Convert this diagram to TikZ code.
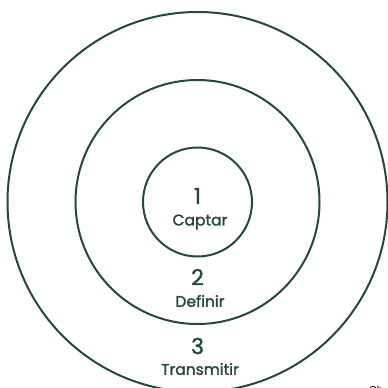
\documentclass[tikz,border=0pt]{standalone}
\usepackage{fontspec}
\setmainfont{Poppins}
\newfontfamily\labfont[FakeBold=1.6]{Poppins}
\newfontfamily\numfont[FakeBold=1.2]{Poppins}
\definecolor{ring}{HTML}{24483A}
\begin{document}
\begin{tikzpicture}[x=1pt,y=-1pt,
  ringline/.style={draw=ring,line width=2pt},
  num/.style={text=ring,font=\numfont\fontsize{22}{22}\selectfont,inner sep=0pt},
  lab/.style={text=ring,font=\labfont\fontsize{15.5}{15.5}\selectfont,inner sep=0pt}]
\useasboundingbox (0,0) rectangle (388,388);
\begin{scope}
\clip (0,0) rectangle (388,388);
\node[ringline,circle,minimum size=380pt,inner sep=0pt] (outer) at (197.5,202) {};
\node[ringline,circle,minimum size=244pt,inner sep=0pt] (middle) at (197.5,202) {};
\node[ringline,circle,minimum size=109pt,inner sep=0pt] (inner) at (197.5,202) {};
\node[font=\fontsize{10}{10}\selectfont,anchor=base west,inner sep=0pt] (ch) at (369,393) {Ch};
\end{scope}
\node[num] (n1) at (197.5,196) {1};
\node[lab] (l1) at (200,222) {Captar};
\node[num] (n2) at (197.5,277) {2};
\node[lab] (l2) at (200,301) {Definir};
\node[num] (n3) at (197.5,346) {3};
\node[lab] (l3) at (200,369) {Transmitir};
\end{tikzpicture}
\end{document}
